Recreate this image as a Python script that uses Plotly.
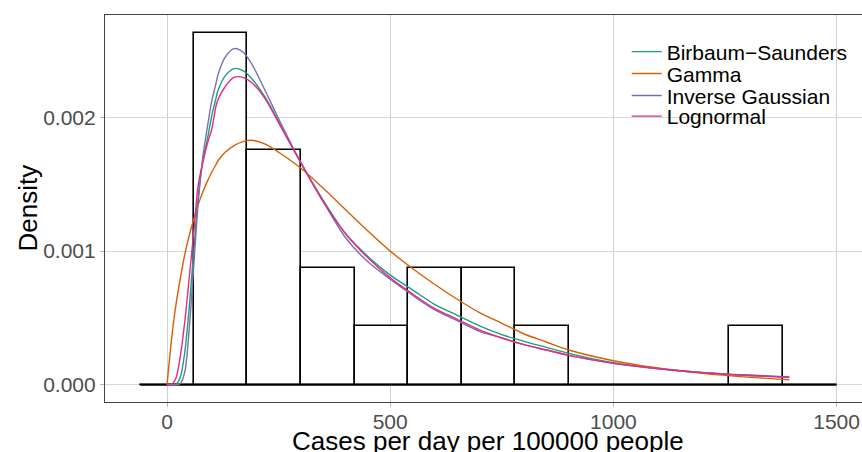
import plotly.graph_objects as go

# ---- histogram (density scale) ----
bin_edges = [-60, 60, 180, 300, 420, 540, 660, 780, 900, 1020, 1140, 1260, 1380, 1500]
bin_density = [0, 0.002632, 0.001754, 0.000877, 0.000439, 0.000877, 0.000877,
               0.000439, 0, 0, 0, 0.000439, 0]

# ---- fitted density curves ----
curve_x = [0, 10, 20, 30, 40, 50, 60, 70, 80, 90, 100, 110, 115, 130, 150, 170, 190,
           220, 250, 300, 350, 400, 450, 500, 550, 600, 650, 700, 750, 800, 850, 900,
           1000, 1100, 1200, 1300, 1394]
bs_y = [0, 0, 0.000003, 0.00006, 0.00025, 0.00059, 0.00101, 0.00141, 0.00167, 0.00183,
        0.00201, 0.00215, 0.00221, 0.00231, 0.002366, 0.00235, 0.00229, 0.00215,
        0.00197, 0.00166, 0.00138, 0.00113, 0.00096, 0.00082, 0.00071, 0.00060,
        0.00052, 0.00044, 0.000375, 0.000325, 0.00028, 0.000235,
        0.000165, 0.000122, 0.000090, 0.000069, 0.000057]
gamma_y = [0, 0.00034, 0.00060, 0.00080, 0.00098, 0.00112, 0.00124, 0.00135, 0.00144,
           0.00152, 0.00159, 0.00165, 0.00168, 0.00174, 0.00179, 0.00182, 0.00183,
           0.00180, 0.00174, 0.00162, 0.00147, 0.00131, 0.00115, 0.00100, 0.00087,
           0.00075, 0.00064, 0.00054, 0.00046, 0.00038, 0.00032, 0.00026,
           0.00018, 0.000125, 0.000085, 0.000057, 0.000038]
ig_y = [0, 0, 0, 0.00001, 0.00010, 0.00043, 0.00090, 0.00137, 0.00170, 0.00192,
        0.00212, 0.00226, 0.00233, 0.00245, 0.002515, 0.00249, 0.00240, 0.00220,
        0.00199, 0.00166, 0.00137, 0.00110, 0.00092, 0.00079, 0.00067, 0.00056,
        0.00048, 0.00040, 0.00035, 0.00030, 0.00026, 0.00022,
        0.00016, 0.000121, 0.000093, 0.000073, 0.000058]
ln_y = [0, 0.000002, 0.00005, 0.00022, 0.00048, 0.00081, 0.00115, 0.00150, 0.00166,
        0.00180, 0.00191, 0.00209, 0.00214, 0.00223, 0.00230, 0.00230, 0.00226,
        0.00214, 0.00196, 0.00166, 0.00137, 0.00113, 0.00095, 0.00080, 0.00068,
        0.00057, 0.00049, 0.00041, 0.00035, 0.00030, 0.00026, 0.00022,
        0.00016, 0.00012, 0.000091, 0.000071, 0.000056]

series_names = ["Birbaum\u2212Saunders", "Gamma", "Inverse Gaussian", "Lognormal"]
series_y = [bs_y, gamma_y, ig_y, ln_y]
series_colors = ["#1B9E77", "#D95F02", "#7570B3", "#E7298A"]

x_ticks = [0, 500, 1000, 1500]
y_ticks = [0, 0.001, 0.002]
y_ticktext = ["0.000", "0.001", "0.002"]

FONT = "Liberation Sans, Arial, sans-serif"

fig = go.Figure()

centers = [(a + b) / 2 for a, b in zip(bin_edges[:-1], bin_edges[1:])]
widths = [b - a for a, b in zip(bin_edges[:-1], bin_edges[1:])]
fig.add_trace(go.Bar(x=centers, y=bin_density, width=widths,
                     marker=dict(color="white", line=dict(color="black", width=1.6)),
                     showlegend=False, hoverinfo="skip"))
# zero-height bins drawn as a baseline
fig.add_trace(go.Scatter(x=[bin_edges[0], bin_edges[-1]], y=[0, 0], mode="lines",
                         line=dict(color="black", width=1.8), showlegend=False,
                         hoverinfo="skip"))

legend_names = ["legend", "legend2", "legend3", "legend4"]
for name, ys, col, lg in zip(series_names, series_y, series_colors, legend_names):
    fig.add_trace(go.Scatter(x=curve_x, y=ys, mode="lines", name=name,
                             line=dict(color=col, width=1.4, shape="spline", smoothing=0.8),
                             legend=lg))

# plot area: x from 105 to 862 px, y from 15 to 402 px
def px_to_paper_x(px):
    return (px - 105) / 757

def px_to_paper_y(py):
    return (402 - py) / 387

row_y = [52.0, 73.8, 95.8, 116.5]
legend_cfg = {}
for lg, ry in zip(legend_names, row_y):
    legend_cfg[lg] = dict(x=px_to_paper_x(626.7), y=px_to_paper_y(ry), xanchor="left",
                          yanchor="middle", bgcolor="rgba(0,0,0,0)", borderwidth=0,
                          font=dict(family=FONT, size=21, color="black"),
                          itemwidth=30)

fig.update_layout(
    width=862, height=452,
    margin=dict(l=105, r=0, t=15, b=50, autoexpand=False),
    paper_bgcolor="white", plot_bgcolor="white",
    font=dict(family=FONT),
    bargap=0,
    showlegend=True,
    **legend_cfg,
    xaxis=dict(range=[-139, 1557], tickvals=x_ticks, showgrid=True, gridcolor="#d0d0d0",
               gridwidth=1, zeroline=False, showline=True, linecolor="#444444",
               linewidth=1.2, mirror=True, ticks="outside", ticklen=4, automargin=False,
               ticklabelstandoff=-3,
               tickcolor="#b5b5b5", tickfont=dict(family=FONT, size=21, color="#4d4d4d")),
    yaxis=dict(range=[-0.000129, 0.002767], tickvals=y_ticks, ticktext=y_ticktext,
               showgrid=True, gridcolor="#d8d8d8", gridwidth=1, zeroline=False,
               showline=True, linecolor="#444444", linewidth=1.2, mirror=False,
               ticks="outside", ticklen=4, tickcolor="#b5b5b5", automargin=False,
               tickfont=dict(family=FONT, size=21, color="#4d4d4d")),
    shapes=[dict(type="rect", xref="paper", yref="paper",
                 x0=px_to_paper_x(617), x1=1.0, y0=px_to_paper_y(141), y1=px_to_paper_y(17),
                 fillcolor="white", line=dict(width=0), layer="between")],
    annotations=[
        dict(text="Cases per day per 100000 people", xref="paper", yref="paper",
             x=px_to_paper_x(488), y=px_to_paper_y(441), xanchor="center", yanchor="middle",
             showarrow=False, font=dict(family=FONT, size=26, color="black")),
        dict(text="Density", xref="paper", yref="paper", x=px_to_paper_x(27), y=0.5,
             xanchor="center", yanchor="middle", textangle=-90, showarrow=False,
             font=dict(family=FONT, size=26, color="black")),
    ],
)

fig.write_html("out.html", config={"displayModeBar": False},
               post_script="document.body.style.margin='0';document.body.style.overflow='hidden';")
